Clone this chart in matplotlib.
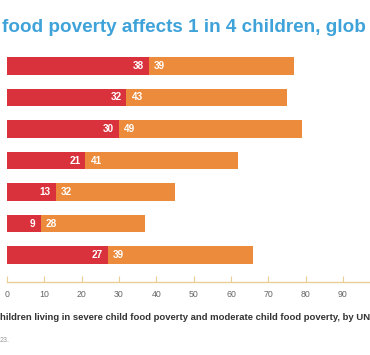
import matplotlib
matplotlib.use("Agg")
import matplotlib.pyplot as plt

severe = [38, 32, 30, 21, 13, 9, 27]
moderate = [39, 43, 49, 41, 32, 28, 39]
xticks = [0, 10, 20, 30, 40, 50, 60, 70, 80, 90]
title = "food poverty affects 1 in 4 children, glob"
caption = "hildren living in severe child food poverty and moderate child food poverty, by UN"
source = "23."

RED = "#d9323d"
ORANGE = "#ec8b3b"
AXIS = "#e9cf96"

W, H = 370, 355
plt.rcParams['font.family'] = ['Liberation Sans', 'DejaVu Sans']
fig = plt.figure(figsize=(W / 100, H / 100), dpi=100)

left = 7 / W
ax = fig.add_axes([left, 1 - 282 / H, 1 - left, (282 - 45) / H])
ppu = (343 - 7) / 90
ax.set_xlim(0, (W - 7) / ppu)
ax.set_ylim(6 + (282 - 255) / 31.5, -(66 - 45) / 31.5)

ys = list(range(len(severe)))
ax.barh(ys, severe, height=0.54, color=RED, edgecolor="none")
ax.barh(ys, moderate, left=severe, height=0.54, color=ORANGE, edgecolor="none")
for y, s, m in zip(ys, severe, moderate):
    ax.annotate(str(s), (s, y), xytext=(-5, 0), textcoords="offset pixels",
                ha="right", va="center", color="white", fontsize=7.2, fontweight="bold")
    ax.annotate(str(m), (s, y), xytext=(5, 0), textcoords="offset pixels",
                ha="left", va="center", color="white", fontsize=7.2, fontweight="bold")

for sp in ["top", "right", "left"]:
    ax.spines[sp].set_visible(False)
ax.spines["bottom"].set_color(AXIS)
ax.spines["bottom"].set_linewidth(1.0)
ax.set_yticks([])
ax.set_xticks(xticks)
ax.set_xticklabels([str(t) for t in xticks])
ax.tick_params(axis="x", direction="in", length=4, color=AXIS, width=0.8,
               labelsize=6.3, labelcolor="#666666", pad=6)
ax.set_facecolor("none")

fig.text(2 / W, 1 - 28 / H, title, ha="left", va="center", color="#3fa3da",
         fontsize=13.6, fontweight="bold")
fig.text(0, 1 - 318 / H, caption, ha="left", va="center", color="#333333",
         fontsize=6.8, fontweight="bold")
fig.text(0, 1 - 341 / H, source, ha="left", va="center", color="#999999",
         fontsize=5)

fig.savefig("out.png", dpi=100)
